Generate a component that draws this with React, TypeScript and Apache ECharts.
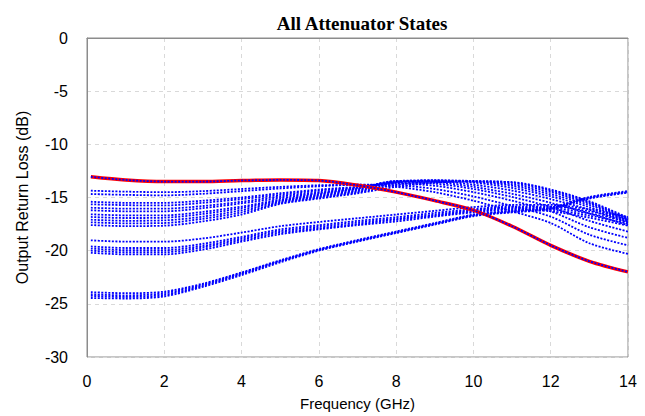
import React, { useEffect, useRef } from "react";
import * as echarts from "echarts";

const freqGHz = [0.1, 1, 2, 3, 4, 5, 6, 7, 8, 9, 10, 11, 12, 13, 14];
const xTicks = [0, 2, 4, 6, 8, 10, 12, 14];
const yTicks = [0, -5, -10, -15, -20, -25, -30];

const referenceState = [-13.05, -13.35, -13.5, -13.5, -13.4, -13.35, -13.4, -13.85, -14.5, -15.3, -16.2, -17.7, -19.5, -21.0, -22.0];

const upperStates = [
  [-14.36, -14.45, -14.5, -14.4, -14.2, -14.0, -13.85, -13.8, -14.0, -14.5, -15.3, -16.3, -17.4, -19.3, -20.3],
  [-14.67, -14.75, -14.8, -14.65, -14.4, -14.15, -13.95, -13.8, -13.85, -14.2, -14.9, -15.8, -16.8, -18.5, -19.5],
  [-15.4, -15.5, -15.5, -15.3, -15.0, -14.6, -14.25, -14.0, -13.7, -13.9, -14.5, -15.3, -16.3, -17.8, -18.8],
  [-15.64, -15.72, -15.75, -15.5, -15.15, -14.75, -14.35, -14.05, -13.6, -13.7, -14.2, -14.95, -15.9, -17.2, -18.2],
  [-15.96, -16.05, -16.05, -15.8, -15.4, -14.9, -14.5, -14.1, -13.5, -13.55, -14.0, -14.65, -15.5, -16.5, -17.6],
  [-16.2, -16.3, -16.3, -16.0, -15.55, -15.05, -14.6, -14.15, -13.45, -13.45, -13.8, -14.35, -15.15, -16.15, -17.4],
  [-16.58, -16.68, -16.68, -16.35, -15.85, -15.2, -14.7, -14.2, -13.45, -13.4, -13.6, -14.1, -14.9, -15.9, -17.3],
  [-16.83, -16.93, -16.9, -16.55, -16.0, -15.3, -14.8, -14.3, -13.5, -13.4, -13.5, -13.9, -14.7, -15.7, -17.2],
  [-17.09, -17.19, -17.15, -16.8, -16.2, -15.4, -14.9, -14.4, -13.6, -13.4, -13.45, -13.75, -14.5, -15.55, -17.1],
  [-17.33, -17.43, -17.4, -17.0, -16.4, -15.5, -15.0, -14.5, -13.8, -13.5, -13.45, -13.6, -14.35, -15.45, -17.0],
  [-17.59, -17.69, -17.65, -17.25, -16.6, -15.6, -15.1, -14.6, -14.0, -13.6, -13.5, -13.55, -14.25, -15.35, -16.9],
];

const middleStates = [
  [-19.03, -19.15, -19.15, -18.85, -18.3, -17.7, -17.3, -16.95, -16.6, -16.25, -15.9, -15.7, -15.7, -16.1, -16.85],
  [-19.6, -19.75, -19.75, -19.35, -18.7, -18.0, -17.6, -17.2, -16.85, -16.45, -16.1, -15.85, -15.85, -16.3, -17.05],
  [-19.8, -19.95, -19.95, -19.55, -18.85, -18.15, -17.75, -17.35, -17.0, -16.6, -16.2, -15.95, -16.0, -16.5, -17.25],
  [-20.0, -20.15, -20.15, -19.7, -19.0, -18.3, -17.9, -17.5, -17.1, -16.7, -16.3, -16.05, -16.15, -16.7, -17.45],
  [-20.2, -20.35, -20.35, -19.9, -19.15, -18.45, -18.0, -17.6, -17.25, -16.8, -16.4, -16.15, -16.3, -16.9, -17.65],
];

const lowerStates = [
  [-23.9, -24.0, -23.85, -23.1, -22.05, -20.9, -19.85, -19.0, -18.2, -17.4, -16.6, -16.25, -15.95, -14.95, -14.4],
  [-24.1, -24.2, -24.0, -23.2, -22.1, -20.95, -19.9, -19.05, -18.25, -17.45, -16.65, -16.3, -16.0, -15.0, -14.45],
  [-24.25, -24.35, -24.15, -23.3, -22.2, -21.0, -19.95, -19.1, -18.3, -17.5, -16.7, -16.35, -16.05, -15.05, -14.5],
  [-24.45, -24.5, -24.3, -23.4, -22.3, -21.1, -20.0, -19.15, -18.35, -17.55, -16.75, -16.4, -16.1, -15.1, -14.55],
];

const toPairs = (vals: number[]) => vals.map((v, i) => [freqGHz[i], v]);

const blueSeries = (vals: number[]) => ({
  type: "line",
  data: toPairs(vals),
  smooth: 0.3,
  showSymbol: false,
  symbol: "none",
  lineStyle: { color: "#0000ff", width: 1.8, type: [2, 1.5] },
});

export default function App() {
  const ref = useRef<HTMLDivElement>(null);
  useEffect(() => {
    if (!ref.current) return;
    const chart = echarts.init(ref.current, undefined, { renderer: "svg" });
    const series: any[] = [];
    [...lowerStates, ...middleStates, ...upperStates].forEach((s) => series.push(blueSeries(s)));
    series.push({
      type: "line",
      data: toPairs(referenceState),
      smooth: 0.3,
      symbol: "none",
      lineStyle: { color: "#ff0000", width: 3.4 },
    });
    series.push(blueSeries(referenceState));
    chart.setOption({
      animation: false,
      backgroundColor: "#ffffff",
      title: {
        text: "All Attenuator States",
        left: 357,
        top: 9,
        textAlign: "center",
        textStyle: { fontFamily: "Liberation Serif", fontWeight: "bold", fontSize: 19, color: "#000" },
      },
      grid: {
        left: 87,
        right: 17,
        top: 38,
        bottom: 59,
        show: true,
        borderColor: "#8c8c8c",
        borderWidth: 1,
      },
      xAxis: {
        type: "value",
        min: 0,
        max: 14,
        interval: 2,
        name: "Frequency (GHz)",
        nameLocation: "middle",
        nameGap: 39,
        nameTextStyle: { fontFamily: "Liberation Sans", fontSize: 15, color: "#000" },
        axisLine: { show: true, lineStyle: { color: "#8c8c8c" } },
        axisTick: { show: false },
        axisLabel: {
          fontFamily: "Liberation Sans",
          fontSize: 16,
          color: "#000",
          margin: 16,
          formatter: (v: number) => (xTicks.includes(v) ? String(v) : ""),
        },
        splitLine: { show: true, lineStyle: { color: "#d9d9d9", type: [4, 4] } },
      },
      yAxis: {
        type: "value",
        min: -30,
        max: 0,
        interval: 5,
        name: "Output Return Loss (dB)",
        nameLocation: "middle",
        nameGap: 57,
        nameTextStyle: { fontFamily: "Liberation Sans", fontSize: 16, color: "#000" },
        axisLine: { show: true, lineStyle: { color: "#8c8c8c" } },
        axisTick: { show: false },
        axisLabel: {
          fontFamily: "Liberation Sans",
          fontSize: 16,
          color: "#000",
          margin: 19,
          formatter: (v: number) => (yTicks.includes(v) ? String(v) : ""),
        },
        splitLine: { show: true, lineStyle: { color: "#d9d9d9", type: [4, 4] } },
      },
      series,
    });
    return () => chart.dispose();
  }, []);
  return (
    <div
      ref={ref}
      style={{ position: "fixed", left: 0, top: 0, width: 645, height: 416, background: "#fff" }}
    />
  );
}
